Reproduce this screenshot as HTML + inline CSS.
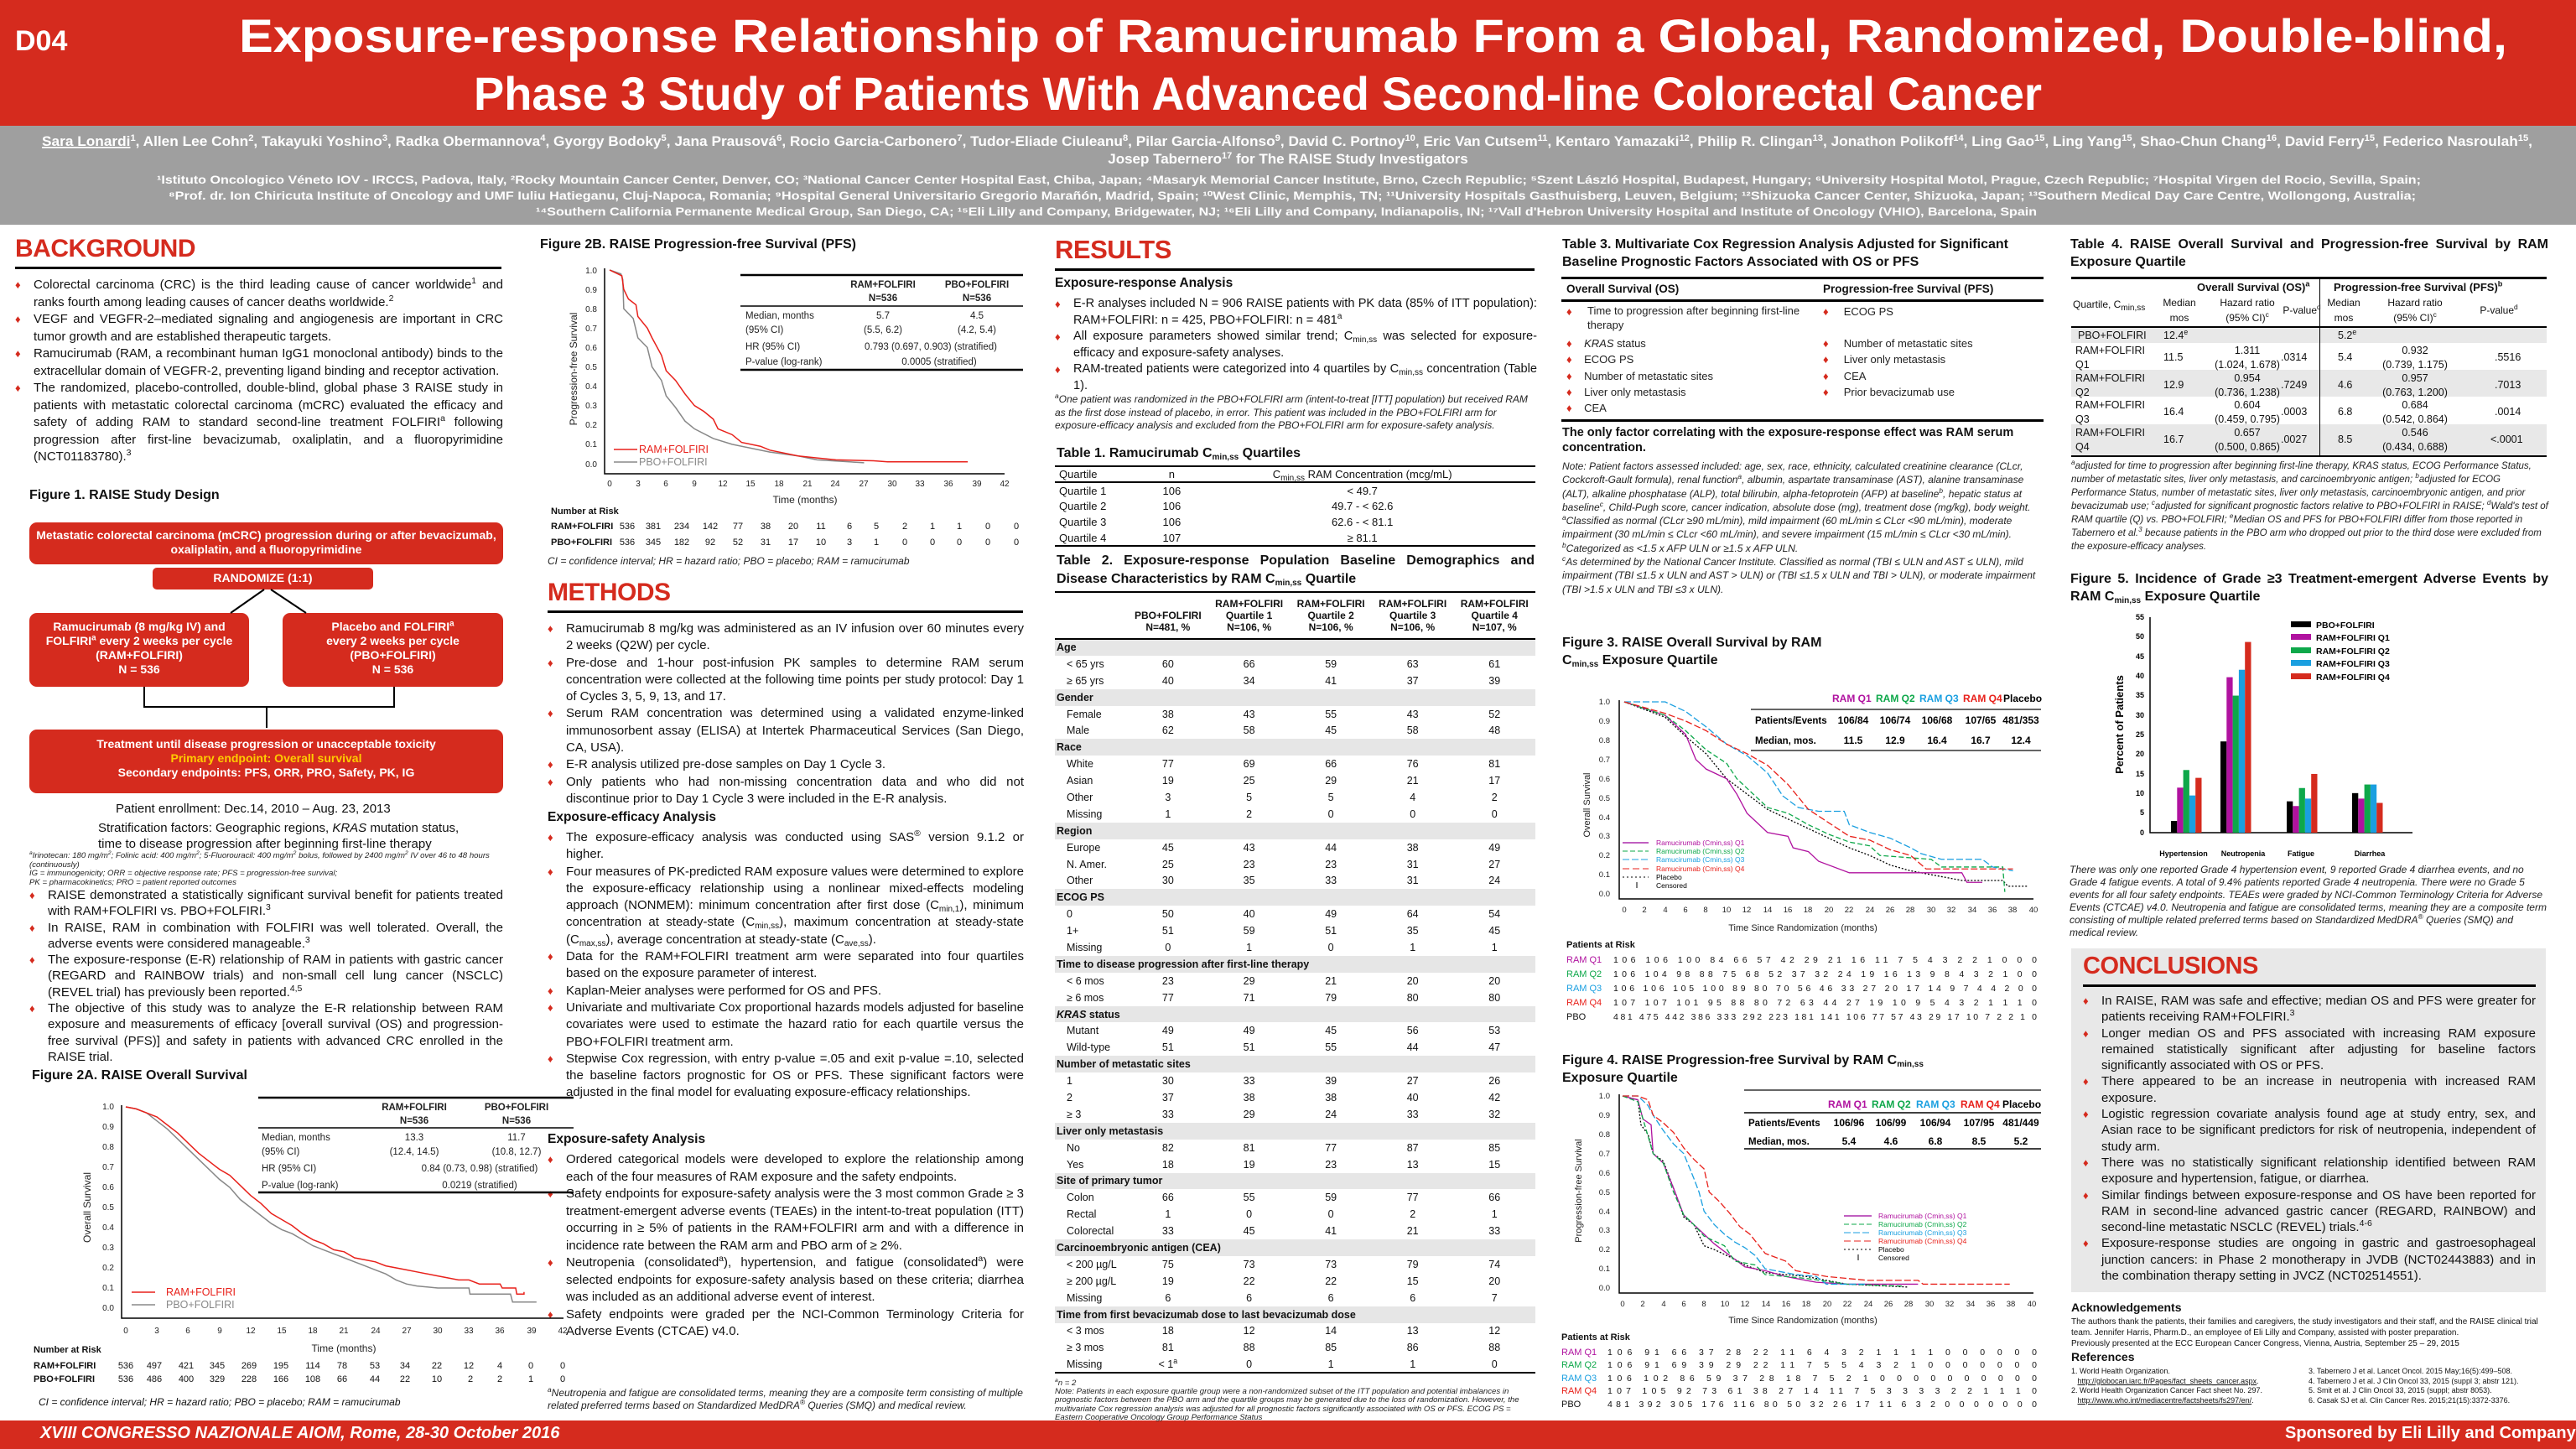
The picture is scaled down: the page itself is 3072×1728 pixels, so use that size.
<!DOCTYPE html>
<html><head><meta charset="utf-8"><style>
*{margin:0;padding:0;box-sizing:border-box}
body{width:3072px;height:1728px;position:relative;background:#fff;font-family:"Liberation Sans",Arial,sans-serif;color:#111;overflow:hidden}
sup{line-height:0;font-size:70%}
.a{position:absolute}
.hd{color:#d52b1e;font-weight:bold;font-size:30px;letter-spacing:-0.5px}
.rule{position:absolute;height:3px;background:#000}
.ft{font-weight:bold;font-size:16px}
.bl{font-size:15px;line-height:19px;text-align:justify}
.bl li{list-style:none;position:relative;padding-left:22px}
.bl li:before{content:"\2666";color:#d52b1e;position:absolute;left:0;font-size:13px}
.it{font-style:italic;font-size:12px;line-height:14.5px;color:#222}
.sub{font-size:10px;vertical-align:-3px;line-height:0}
table{border-collapse:collapse}
.t2 td{font-size:12.5px;height:19.9px;padding:0 2px;text-align:center}
.t2 td:first-child{text-align:left;padding-left:14px}
.t2 tr.s td{background:#e6e6e6;font-weight:bold;text-align:left;padding-left:2px;font-size:12.5px}
.box{position:absolute;background:#d52b1e;color:#fff;font-weight:bold;text-align:center;border-radius:9px;font-size:14px;line-height:17px}
</style></head><body>

<!-- header -->
<div class="a" style="left:0;top:0;width:3072px;height:150px;background:#d52b1e"></div>
<div class="a" style="left:0;top:150px;width:3072px;height:118px;background:#9f9f9f"></div>
<svg class="a" style="left:0;top:0" width="3072" height="270" font-family="Liberation Sans, Arial, sans-serif" fill="#fff" font-weight="bold">
<text x="18" y="60" font-size="34">D04</text>
<text x="285" y="62" font-size="56" textLength="2705" lengthAdjust="spacingAndGlyphs">Exposure-response Relationship of Ramucirumab From a Global, Randomized, Double-blind,</text>
<text x="565" y="131" font-size="56" textLength="1870" lengthAdjust="spacingAndGlyphs">Phase 3 Study of Patients With Advanced Second-line Colorectal Cancer</text>
<text x="50" y="174" font-size="17" textLength="2970" lengthAdjust="spacingAndGlyphs"><tspan text-decoration="underline">Sara Lonardi</tspan><tspan font-size="11" dy="-6">1</tspan><tspan dy="6">, Allen Lee Cohn</tspan><tspan font-size="11" dy="-6">2</tspan><tspan dy="6">, Takayuki Yoshino</tspan><tspan font-size="11" dy="-6">3</tspan><tspan dy="6">, Radka Obermannova</tspan><tspan font-size="11" dy="-6">4</tspan><tspan dy="6">, Gyorgy Bodoky</tspan><tspan font-size="11" dy="-6">5</tspan><tspan dy="6">, Jana Prausová</tspan><tspan font-size="11" dy="-6">6</tspan><tspan dy="6">, Rocio Garcia-Carbonero</tspan><tspan font-size="11" dy="-6">7</tspan><tspan dy="6">, Tudor-Eliade Ciuleanu</tspan><tspan font-size="11" dy="-6">8</tspan><tspan dy="6">, Pilar Garcia-Alfonso</tspan><tspan font-size="11" dy="-6">9</tspan><tspan dy="6">, David C. Portnoy</tspan><tspan font-size="11" dy="-6">10</tspan><tspan dy="6">, Eric Van Cutsem</tspan><tspan font-size="11" dy="-6">11</tspan><tspan dy="6">, Kentaro Yamazaki</tspan><tspan font-size="11" dy="-6">12</tspan><tspan dy="6">, Philip R. Clingan</tspan><tspan font-size="11" dy="-6">13</tspan><tspan dy="6">, Jonathon Polikoff</tspan><tspan font-size="11" dy="-6">14</tspan><tspan dy="6">, Ling Gao</tspan><tspan font-size="11" dy="-6">15</tspan><tspan dy="6">, Ling Yang</tspan><tspan font-size="11" dy="-6">15</tspan><tspan dy="6">, Shao-Chun Chang</tspan><tspan font-size="11" dy="-6">16</tspan><tspan dy="6">, David Ferry</tspan><tspan font-size="11" dy="-6">15</tspan><tspan dy="6">, Federico Nasroulah</tspan><tspan font-size="11" dy="-6">15</tspan><tspan dy="6">,</tspan></text>
<text x="1536" y="195" font-size="17" text-anchor="middle">Josep Tabernero<tspan font-size="11" dy="-6">17</tspan><tspan dy="6"> for The RAISE Study Investigators</tspan></text>
<text x="187" y="219" font-size="13.5" textLength="2700" lengthAdjust="spacingAndGlyphs">¹Istituto Oncologico Véneto IOV - IRCCS, Padova, Italy, ²Rocky Mountain Cancer Center, Denver, CO; ³National Cancer Center Hospital East, Chiba, Japan; ⁴Masaryk Memorial Cancer Institute, Brno, Czech Republic; ⁵Szent László Hospital, Budapest, Hungary; ⁶University Hospital Motol, Prague, Czech Republic; ⁷Hospital Virgen del Rocio, Sevilla, Spain;</text>
<text x="201" y="238" font-size="13.5" textLength="2680" lengthAdjust="spacingAndGlyphs">⁸Prof. dr. Ion Chiricuta Institute of Oncology and UMF Iuliu Hatieganu, Cluj-Napoca, Romania; ⁹Hospital General Universitario Gregorio Marañón, Madrid, Spain; ¹⁰West Clinic, Memphis, TN; ¹¹University Hospitals Gasthuisberg, Leuven, Belgium; ¹²Shizuoka Cancer Center, Shizuoka, Japan; ¹³Southern Medical Day Care Centre, Wollongong, Australia;</text>
<text x="639" y="257" font-size="13.5" textLength="1790" lengthAdjust="spacingAndGlyphs">¹⁴Southern California Permanente Medical Group, San Diego, CA; ¹⁵Eli Lilly and Company, Bridgewater, NJ; ¹⁶Eli Lilly and Company, Indianapolis, IN; ¹⁷Vall d'Hebron University Hospital and Institute of Oncology (VHIO), Barcelona, Spain</text>
</svg>

<!-- footer -->
<div class="a" style="left:0;top:1694px;width:3072px;height:34px;background:#d52b1e"></div>
<div class="a" style="left:48px;top:1698px;color:#fff;font-weight:bold;font-style:italic;font-size:20px">XVIII CONGRESSO NAZIONALE AIOM, Rome, 28-30 October 2016</div>
<div class="a" style="left:2725px;top:1698px;color:#fff;font-weight:bold;font-size:20px">Sponsored by Eli Lilly and Company</div>

<!-- COLUMN 1 -->
<div class="a hd" style="left:18px;top:280px">BACKGROUND</div>
<div class="rule" style="left:18px;top:318px;width:580px"></div>
<ul class="a bl" style="left:18px;top:330px;width:582px;line-height:20.5px">
<li>Colorectal carcinoma (CRC) is the third leading cause of cancer worldwide<sup>1</sup> and ranks fourth among leading causes of cancer deaths worldwide.<sup>2</sup></li>
<li>VEGF and VEGFR-2–mediated signaling and angiogenesis are important in CRC tumor growth and are established therapeutic targets.</li>
<li>Ramucirumab (RAM, a recombinant human IgG1 monoclonal antibody) binds to the extracellular domain of VEGFR-2, preventing ligand binding and receptor activation.</li>
<li>The randomized, placebo-controlled, double-blind, global phase 3 RAISE study in patients with metastatic colorectal carcinoma (mCRC) evaluated the efficacy and safety of adding RAM to standard second-line treatment FOLFIRI<sup>a</sup> following progression after first-line bevacizumab, oxaliplatin, and a fluoropyrimidine (NCT01183780).<sup>3</sup></li>
</ul>
<div class="a ft" style="left:35px;top:582px">Figure 1. RAISE Study Design</div>
<div class="box" style="left:35px;top:623px;width:565px;height:50px;padding-top:7px">Metastatic colorectal carcinoma (mCRC) progression during or after bevacizumab,<br>oxaliplatin, and a fluoropyrimidine</div>
<div class="box" style="left:182px;top:677px;width:263px;height:26px;padding-top:4px;border-radius:5px">RANDOMIZE (1:1)</div>
<div class="box" style="left:35px;top:731px;width:262px;height:88px;padding-top:8px">Ramucirumab (8 mg/kg IV) and<br>FOLFIRI<sup>a</sup> every 2 weeks per cycle<br>(RAM+FOLFIRI)<br>N = 536</div>
<div class="box" style="left:337px;top:731px;width:263px;height:88px;padding-top:8px">Placebo and FOLFIRI<sup>a</sup><br>every 2 weeks per cycle<br>(PBO+FOLFIRI)<br>N = 536</div>
<div class="box" style="left:35px;top:870px;width:565px;height:76px;padding-top:9px">Treatment until disease progression or unacceptable toxicity<br><span style="color:#ffcc00">Primary endpoint: Overall survival</span><br>Secondary endpoints: PFS, ORR, PRO, Safety, PK, IG</div>
<svg class="a" style="left:0;top:0" width="620" height="1000"><g stroke="#000" stroke-width="2" fill="none"><path d="M315 703 L275 731 M323 703 L365 731"/><path d="M172 819 V843 H470 V819 M318 843 V868"/></g></svg>
<div class="a" style="left:138px;top:956px;font-size:15px">Patient enrollment: Dec.14, 2010 – Aug. 23, 2013</div>
<div class="a" style="left:117px;top:978px;font-size:15px;line-height:19px">Stratification factors: Geographic regions, <i>KRAS</i> mutation status,<br>time to disease progression after beginning first-line therapy</div>
<div class="a it" style="left:35px;top:1016px;width:580px;font-size:9.6px;line-height:10.5px"><sup>a</sup>Irinotecan: 180 mg/m<sup>2</sup>; Folinic acid: 400 mg/m<sup>2</sup>; 5-Fluorouracil: 400 mg/m<sup>2</sup> bolus, followed by 2400 mg/m<sup>2</sup> IV over 46 to 48 hours (continuously)<br>IG = immunogenicity; ORR = objective response rate; PFS = progression-free survival;<br>PK = pharmacokinetics; PRO = patient reported outcomes</div>
<ul class="a bl" style="left:35px;top:1058px;width:565px;line-height:19.3px">
<li>RAISE demonstrated a statistically significant survival benefit for patients treated with RAM+FOLFIRI vs. PBO+FOLFIRI.<sup>3</sup></li>
<li>In RAISE, RAM in combination with FOLFIRI was well tolerated. Overall, the adverse events were considered manageable.<sup>3</sup></li>
<li>The exposure-response (E-R) relationship of RAM in patients with gastric cancer (REGARD and RAINBOW trials) and non-small cell lung cancer (NSCLC) (REVEL trial) has previously been reported.<sup>4,5</sup></li>
<li>The objective of this study was to analyze the E-R relationship between RAM exposure and measurements of efficacy [overall survival (OS) and progression-free survival (PFS)] and safety in patients with advanced CRC enrolled in the RAISE trial.</li>
</ul>
<div class="a ft" style="left:38px;top:1274px">Figure 2A. RAISE Overall Survival</div>

<!-- COLUMN 2 -->
<div class="a ft" style="left:644px;top:283px">Figure 2B. RAISE Progression-free Survival (PFS)</div>
<div class="a" style="left:653px;top:662px;font-style:italic;font-size:12px;color:#222">CI = confidence interval; HR = hazard ratio; PBO = placebo; RAM = ramucirumab</div>
<div class="a hd" style="left:653px;top:690px">METHODS</div>
<div class="rule" style="left:653px;top:728px;width:567px"></div>
<ul class="a bl" style="left:653px;top:740px;width:568px;line-height:20.3px">
<li>Ramucirumab 8 mg/kg was administered as an IV infusion over 60 minutes every 2 weeks (Q2W) per cycle.</li>
<li>Pre-dose and 1-hour post-infusion PK samples to determine RAM serum concentration were collected at the following time points per study protocol: Day 1 of Cycles 3, 5, 9, 13, and 17.</li>
<li>Serum RAM concentration was determined using a validated enzyme-linked immunosorbent assay (ELISA) at Intertek Pharmaceutical Services (San Diego, CA, USA).</li>
<li>E-R analysis utilized pre-dose samples on Day 1 Cycle 3.</li>
<li>Only patients who had non-missing concentration data and who did not discontinue prior to Day 1 Cycle 3 were included in the E-R analysis.</li>
</ul>
<div class="a ft" style="left:653px;top:966px;font-size:15.5px">Exposure-efficacy Analysis</div>
<ul class="a bl" style="left:653px;top:989px;width:568px;line-height:20.3px">
<li>The exposure-efficacy analysis was conducted using SAS<sup>®</sup> version 9.1.2 or higher.</li>
<li>Four measures of PK-predicted RAM exposure values were determined to explore the exposure-efficacy relationship using a nonlinear mixed-effects modeling approach (NONMEM): minimum concentration after first dose (C<span class="sub">min,1</span>), minimum concentration at steady-state (C<span class="sub">min,ss</span>), maximum concentration at steady-state (C<span class="sub">max,ss</span>), average concentration at steady-state (C<span class="sub">ave,ss</span>).</li>
<li>Data for the RAM+FOLFIRI treatment arm were separated into four quartiles based on the exposure parameter of interest.</li>
<li>Kaplan-Meier analyses were performed for OS and PFS.</li>
<li>Univariate and multivariate Cox proportional hazards models adjusted for baseline covariates were used to estimate the hazard ratio for each quartile versus the PBO+FOLFIRI treatment arm.</li>
<li>Stepwise Cox regression, with entry p-value =.05 and exit p-value =.10, selected the baseline factors prognostic for OS or PFS. These significant factors were adjusted in the final model for evaluating exposure-efficacy relationships.</li>
</ul>
<div class="a ft" style="left:653px;top:1350px;font-size:15.5px">Exposure-safety Analysis</div>
<ul class="a bl" style="left:653px;top:1373px;width:568px;line-height:20.5px">
<li>Ordered categorical models were developed to explore the relationship among each of the four measures of RAM exposure and the safety endpoints.</li>
<li>Safety endpoints for exposure-safety analysis were the 3 most common Grade ≥ 3 treatment-emergent adverse events (TEAEs) in the intent-to-treat population (ITT) occurring in ≥ 5% of patients in the RAM+FOLFIRI arm and with a difference in incidence rate between the RAM arm and PBO arm of ≥ 2%.</li>
<li>Neutropenia (consolidated<sup>a</sup>), hypertension, and fatigue (consolidated<sup>a</sup>) were selected endpoints for exposure-safety analysis based on these criteria; diarrhea was included as an additional adverse event of interest.</li>
<li>Safety endpoints were graded per the NCI-Common Terminology Criteria for Adverse Events (CTCAE) v4.0.</li>
</ul>
<div class="a it" style="left:653px;top:1654px;width:568px"><sup>a</sup>Neutropenia and fatigue are consolidated terms, meaning they are a composite term consisting of multiple related preferred terms based on Standardized MedDRA<sup>®</sup> Queries (SMQ) and medical review.</div>

<!-- COLUMN 3 -->
<div class="a hd" style="left:1258px;top:280px;font-size:31px">RESULTS</div>
<div class="rule" style="left:1258px;top:320px;width:572px"></div>
<div class="a ft" style="left:1258px;top:329px;font-size:15.5px">Exposure-response Analysis</div>
<ul class="a bl" style="left:1258px;top:353px;width:575px;font-size:14.6px;line-height:19.5px">
<li>E-R analyses included N = 906 RAISE patients with PK data (85% of ITT population): RAM+FOLFIRI: n = 425, PBO+FOLFIRI: n = 481<sup>a</sup></li>
<li>All exposure parameters showed similar trend; C<span class="sub">min,ss</span> was selected for exposure-efficacy and exposure-safety analyses.</li>
<li>RAM-treated patients were categorized into 4 quartiles by C<span class="sub">min,ss</span> concentration (Table 1).</li>
</ul>
<div class="a it" style="left:1258px;top:469px;width:573px;line-height:15.5px"><sup>a</sup>One patient was randomized in the PBO+FOLFIRI arm (intent-to-treat [ITT] population) but received RAM as the first dose instead of placebo, in error. This patient was included in the PBO+FOLFIRI arm for exposure-efficacy analysis and excluded from the PBO+FOLFIRI arm for exposure-safety analysis.</div>
<div class="a ft" style="left:1260px;top:532px">Table 1. Ramucirumab C<span class="sub">min,ss</span> Quartiles</div>
<table class="a" style="left:1258px;top:555px;width:573px;border-top:2px solid #000;border-bottom:2px solid #000;font-size:13px">
<tr style="border-bottom:2px solid #000"><td style="padding-left:5px;height:19px">Quartile</td><td style="text-align:center">n</td><td style="text-align:center">C<span class="sub">min,ss</span> RAM Concentration (mcg/mL)</td></tr>
<tr><td style="padding-left:5px;height:19px">Quartile 1</td><td style="text-align:center">106</td><td style="text-align:center">&lt; 49.7</td></tr>
<tr><td style="padding-left:5px;height:19px">Quartile 2</td><td style="text-align:center">106</td><td style="text-align:center">49.7 - &lt; 62.6</td></tr>
<tr><td style="padding-left:5px;height:19px">Quartile 3</td><td style="text-align:center">106</td><td style="text-align:center">62.6 - &lt; 81.1</td></tr>
<tr><td style="padding-left:5px;height:19px">Quartile 4</td><td style="text-align:center">107</td><td style="text-align:center">≥ 81.1</td></tr>
</table>
<div class="a ft" style="left:1260px;top:658px;width:570px;line-height:22px;text-align:justify">Table 2. Exposure-response Population Baseline Demographics and Disease Characteristics by RAM C<span class="sub">min,ss</span> Quartile</div>
<table class="a t2" style="left:1258px;top:705px;width:573px;border-top:2px solid #000;border-bottom:2px solid #000">
<tr style="border-bottom:2px solid #000;font-weight:bold"><td style="height:56px"></td><td style="font-size:12px;padding-top:14px">PBO+FOLFIRI<br>N=481, %</td><td style="font-size:12px">RAM+FOLFIRI<br>Quartile 1<br>N=106, %</td><td style="font-size:12px">RAM+FOLFIRI<br>Quartile 2<br>N=106, %</td><td style="font-size:12px">RAM+FOLFIRI<br>Quartile 3<br>N=106, %</td><td style="font-size:12px">RAM+FOLFIRI<br>Quartile 4<br>N=107, %</td></tr>
<tr class="s"><td colspan="6">Age</td></tr>
<tr><td>&lt; 65 yrs</td><td>60</td><td>66</td><td>59</td><td>63</td><td>61</td></tr>
<tr><td>≥ 65 yrs</td><td>40</td><td>34</td><td>41</td><td>37</td><td>39</td></tr>
<tr class="s"><td colspan="6">Gender</td></tr>
<tr><td>Female</td><td>38</td><td>43</td><td>55</td><td>43</td><td>52</td></tr>
<tr><td>Male</td><td>62</td><td>58</td><td>45</td><td>58</td><td>48</td></tr>
<tr class="s"><td colspan="6">Race</td></tr>
<tr><td>White</td><td>77</td><td>69</td><td>66</td><td>76</td><td>81</td></tr>
<tr><td>Asian</td><td>19</td><td>25</td><td>29</td><td>21</td><td>17</td></tr>
<tr><td>Other</td><td>3</td><td>5</td><td>5</td><td>4</td><td>2</td></tr>
<tr><td>Missing</td><td>1</td><td>2</td><td>0</td><td>0</td><td>0</td></tr>
<tr class="s"><td colspan="6">Region</td></tr>
<tr><td>Europe</td><td>45</td><td>43</td><td>44</td><td>38</td><td>49</td></tr>
<tr><td>N. Amer.</td><td>25</td><td>23</td><td>23</td><td>31</td><td>27</td></tr>
<tr><td>Other</td><td>30</td><td>35</td><td>33</td><td>31</td><td>24</td></tr>
<tr class="s"><td colspan="6">ECOG PS</td></tr>
<tr><td>0</td><td>50</td><td>40</td><td>49</td><td>64</td><td>54</td></tr>
<tr><td>1+</td><td>51</td><td>59</td><td>51</td><td>35</td><td>45</td></tr>
<tr><td>Missing</td><td>0</td><td>1</td><td>0</td><td>1</td><td>1</td></tr>
<tr class="s"><td colspan="6">Time to disease progression after first-line therapy</td></tr>
<tr><td>&lt; 6 mos</td><td>23</td><td>29</td><td>21</td><td>20</td><td>20</td></tr>
<tr><td>≥ 6 mos</td><td>77</td><td>71</td><td>79</td><td>80</td><td>80</td></tr>
<tr class="s"><td colspan="6"><i>KRAS</i> status</td></tr>
<tr><td>Mutant</td><td>49</td><td>49</td><td>45</td><td>56</td><td>53</td></tr>
<tr><td>Wild-type</td><td>51</td><td>51</td><td>55</td><td>44</td><td>47</td></tr>
<tr class="s"><td colspan="6">Number of metastatic sites</td></tr>
<tr><td>1</td><td>30</td><td>33</td><td>39</td><td>27</td><td>26</td></tr>
<tr><td>2</td><td>37</td><td>38</td><td>38</td><td>40</td><td>42</td></tr>
<tr><td>≥ 3</td><td>33</td><td>29</td><td>24</td><td>33</td><td>32</td></tr>
<tr class="s"><td colspan="6">Liver only metastasis</td></tr>
<tr><td>No</td><td>82</td><td>81</td><td>77</td><td>87</td><td>85</td></tr>
<tr><td>Yes</td><td>18</td><td>19</td><td>23</td><td>13</td><td>15</td></tr>
<tr class="s"><td colspan="6">Site of primary tumor</td></tr>
<tr><td>Colon</td><td>66</td><td>55</td><td>59</td><td>77</td><td>66</td></tr>
<tr><td>Rectal</td><td>1</td><td>0</td><td>0</td><td>2</td><td>1</td></tr>
<tr><td>Colorectal</td><td>33</td><td>45</td><td>41</td><td>21</td><td>33</td></tr>
<tr class="s"><td colspan="6">Carcinoembryonic antigen (CEA)</td></tr>
<tr><td>&lt; 200 µg/L</td><td>75</td><td>73</td><td>73</td><td>79</td><td>74</td></tr>
<tr><td>≥ 200 µg/L</td><td>19</td><td>22</td><td>22</td><td>15</td><td>20</td></tr>
<tr><td>Missing</td><td>6</td><td>6</td><td>6</td><td>6</td><td>7</td></tr>
<tr class="s"><td colspan="6">Time from first bevacizumab dose to last bevacizumab dose</td></tr>
<tr><td>&lt; 3 mos</td><td>18</td><td>12</td><td>14</td><td>13</td><td>12</td></tr>
<tr><td>≥ 3 mos</td><td>81</td><td>88</td><td>85</td><td>86</td><td>88</td></tr>
<tr><td>Missing</td><td>&lt; 1<sup>a</sup></td><td>0</td><td>1</td><td>1</td><td>0</td></tr>
</table>
<div class="a it" style="left:1258px;top:1645px;width:575px;font-size:9.6px;line-height:10.2px"><sup>a</sup>n = 2<br>Note: Patients in each exposure quartile group were a non-randomized subset of the ITT population and potential imbalances in prognostic factors between the PBO arm and the quartile groups may be generated due to the loss of randomization. However, the multivariate Cox regression analysis was adjusted for all prognostic factors significantly associated with OS or PFS. ECOG PS = Eastern Cooperative Oncology Group Performance Status</div>

<!-- COLUMN 4 -->
<div class="a ft" style="left:1863px;top:281px;width:560px;line-height:21px">Table 3. Multivariate Cox Regression Analysis Adjusted for Significant Baseline Prognostic Factors Associated with OS or PFS</div>
<div class="rule" style="left:1862px;top:330px;width:575px"></div>
<div class="a" style="left:1868px;top:337px;font-weight:bold;font-size:13.5px">Overall Survival (OS)</div>
<div class="a" style="left:2174px;top:337px;font-weight:bold;font-size:13.5px">Progression-free Survival (PFS)</div>
<div class="rule" style="left:1862px;top:357px;width:575px"></div>
<div class="a" style="left:1868px;top:362px;font-size:13px;line-height:20px;color:#222">
<div style="position:absolute;left:0;top:0;width:300px"><span style="color:#d52b1e">♦</span><span style="position:absolute;left:25px;width:275px;line-height:17px">Time to progression after beginning first-line therapy</span></div>
<div style="position:absolute;left:0;top:38px;white-space:nowrap"><span style="color:#d52b1e">♦</span>&nbsp;&nbsp;&nbsp;&nbsp;<i>KRAS</i> status</div>
<div style="position:absolute;left:0;top:57px;white-space:nowrap"><span style="color:#d52b1e">♦</span>&nbsp;&nbsp;&nbsp;&nbsp;ECOG PS</div>
<div style="position:absolute;left:0;top:77px;white-space:nowrap"><span style="color:#d52b1e">♦</span>&nbsp;&nbsp;&nbsp;&nbsp;Number of metastatic sites</div>
<div style="position:absolute;left:0;top:96px;white-space:nowrap"><span style="color:#d52b1e">♦</span>&nbsp;&nbsp;&nbsp;&nbsp;Liver only metastasis</div>
<div style="position:absolute;left:0;top:115px;white-space:nowrap"><span style="color:#d52b1e">♦</span>&nbsp;&nbsp;&nbsp;&nbsp;CEA</div>
<div style="position:absolute;left:306px;top:0;white-space:nowrap"><span style="color:#d52b1e">♦</span>&nbsp;&nbsp;&nbsp;&nbsp;&nbsp;ECOG PS</div>
<div style="position:absolute;left:306px;top:38px;white-space:nowrap"><span style="color:#d52b1e">♦</span>&nbsp;&nbsp;&nbsp;&nbsp;&nbsp;Number of metastatic sites</div>
<div style="position:absolute;left:306px;top:57px;white-space:nowrap"><span style="color:#d52b1e">♦</span>&nbsp;&nbsp;&nbsp;&nbsp;&nbsp;Liver only metastasis</div>
<div style="position:absolute;left:306px;top:77px;white-space:nowrap"><span style="color:#d52b1e">♦</span>&nbsp;&nbsp;&nbsp;&nbsp;&nbsp;CEA</div>
<div style="position:absolute;left:306px;top:96px;white-space:nowrap"><span style="color:#d52b1e">♦</span>&nbsp;&nbsp;&nbsp;&nbsp;&nbsp;Prior bevacizumab use</div>
</div>
<div class="rule" style="left:1862px;top:500px;width:575px"></div>
<div class="a" style="left:1863px;top:507px;width:575px;font-weight:bold;font-size:14.5px;line-height:18px">The only factor correlating with the exposure-response effect was RAM serum concentration.</div>
<div class="a it" style="left:1863px;top:548px;width:578px;font-size:12px;line-height:16.3px">Note: Patient factors assessed included: age, sex, race, ethnicity, calculated creatinine clearance (CLcr, Cockcroft-Gault formula), renal function<sup>a</sup>, albumin, aspartate transaminase (AST), alanine transaminase (ALT), alkaline phosphatase (ALP), total bilirubin, alpha-fetoprotein (AFP) at baseline<sup>b</sup>, hepatic status at baseline<sup>c</sup>, Child-Pugh score, cancer indication, absolute dose (mg), treatment dose (mg/kg), body weight.<br><sup>a</sup>Classified as normal (CLcr ≥90 mL/min), mild impairment (60 mL/min ≤ CLcr &lt;90 mL/min), moderate impairment (30 mL/min ≤ CLcr &lt;60 mL/min), and severe impairment (15 mL/min ≤ CLcr &lt;30 mL/min).<br><sup>b</sup>Categorized as &lt;1.5 x AFP ULN or ≥1.5 x AFP ULN.<br><sup>c</sup>As determined by the National Cancer Institute. Classified as normal (TBI ≤ ULN and AST ≤ ULN), mild impairment (TBI ≤1.5 x ULN and AST &gt; ULN) or (TBI ≤1.5 x ULN and TBI &gt; ULN), or moderate impairment (TBI &gt;1.5 x ULN and TBI ≤3 x ULN).</div>
<div class="a ft" style="left:1863px;top:756px;line-height:21px">Figure 3. RAISE Overall Survival by RAM<br>C<span class="sub">min,ss</span> Exposure Quartile</div>
<div class="a ft" style="left:1863px;top:1254px;line-height:21px">Figure 4. RAISE Progression-free Survival by RAM C<span class="sub">min,ss</span><br>Exposure Quartile</div>

<!-- COLUMN 5 -->
<div class="a ft" style="left:2469px;top:281px;width:570px;line-height:21px;text-align:justify">Table 4. RAISE Overall Survival and Progression-free Survival by RAM Exposure Quartile</div>
<div class="a" style="left:2470px;top:330px;width:567px;height:215px;border-top:3px solid #000;border-bottom:3px solid #000"></div>
<div class="a" style="left:2470px;top:389px;width:567px;height:2px;background:#000"></div>
<div class="a" style="left:2470px;top:391px;width:567px;height:18px;background:#e8e8e8"></div>
<div class="a" style="left:2470px;top:441px;width:567px;height:32px;background:#e8e8e8"></div>
<div class="a" style="left:2470px;top:506px;width:567px;height:37px;background:#e8e8e8"></div>
<div class="a" style="left:2766px;top:333px;width:1px;height:210px;background:#000"></div>
<div class="a" style="left:2620px;top:335px;font-weight:bold;font-size:13px">Overall Survival (OS)<sup>a</sup></div>
<div class="a" style="left:2783px;top:335px;font-weight:bold;font-size:13px">Progression-free Survival (PFS)<sup>b</sup></div>
<div class="a" style="font-size:12px;line-height:18px;text-align:center;left:2470px;top:352px;width:567px">
<span class="a" style="left:2px;top:2px">Quartile, C<span class="sub">min,ss</span></span>
<span class="a" style="left:104px;top:0;width:50px">Median<br>mos</span>
<span class="a" style="left:160px;top:0;width:100px">Hazard ratio<br>(95% CI)<sup>c</sup></span>
<span class="a" style="left:250px;top:9px;width:50px">P-value<sup>d</sup></span>
<span class="a" style="left:300px;top:0;width:50px">Median<br>mos</span>
<span class="a" style="left:360px;top:0;width:100px">Hazard ratio<br>(95% CI)<sup>c</sup></span>
<span class="a" style="left:470px;top:9px;width:80px">P-value<sup>d</sup></span>
</div>
<div class="a" style="font-size:12.5px;line-height:16.5px;left:2470px;top:392px;width:567px;height:150px">
<span class="a" style="left:8px;top:0">PBO+FOLFIRI</span><span class="a" style="left:110px;top:0">12.4<sup>e</sup></span><span class="a" style="left:318px;top:0">5.2<sup>e</sup></span>
<span class="a" style="left:5px;top:18px">RAM+FOLFIRI<br>Q1</span><span class="a" style="left:110px;top:26px">11.5</span><span class="a" style="left:165px;top:18px;width:90px;text-align:center">1.311<br>(1.024, 1.678)</span><span class="a" style="left:250px;top:26px">.0314</span><span class="a" style="left:318px;top:26px">5.4</span><span class="a" style="left:365px;top:18px;width:90px;text-align:center">0.932<br>(0.739, 1.175)</span><span class="a" style="left:505px;top:26px">.5516</span>
<span class="a" style="left:5px;top:51px">RAM+FOLFIRI<br>Q2</span><span class="a" style="left:110px;top:59px">12.9</span><span class="a" style="left:165px;top:51px;width:90px;text-align:center">0.954<br>(0.736, 1.238)</span><span class="a" style="left:250px;top:59px">.7249</span><span class="a" style="left:318px;top:59px">4.6</span><span class="a" style="left:365px;top:51px;width:90px;text-align:center">0.957<br>(0.763, 1.200)</span><span class="a" style="left:505px;top:59px">.7013</span>
<span class="a" style="left:5px;top:83px">RAM+FOLFIRI<br>Q3</span><span class="a" style="left:110px;top:91px">16.4</span><span class="a" style="left:165px;top:83px;width:90px;text-align:center">0.604<br>(0.459, 0.795)</span><span class="a" style="left:250px;top:91px">.0003</span><span class="a" style="left:318px;top:91px">6.8</span><span class="a" style="left:365px;top:83px;width:90px;text-align:center">0.684<br>(0.542, 0.864)</span><span class="a" style="left:505px;top:91px">.0014</span>
<span class="a" style="left:5px;top:116px">RAM+FOLFIRI<br>Q4</span><span class="a" style="left:110px;top:124px">16.7</span><span class="a" style="left:165px;top:116px;width:90px;text-align:center">0.657<br>(0.500, 0.865)</span><span class="a" style="left:250px;top:124px">.0027</span><span class="a" style="left:318px;top:124px">8.5</span><span class="a" style="left:365px;top:116px;width:90px;text-align:center">0.546<br>(0.434, 0.688)</span><span class="a" style="left:500px;top:124px">&lt;.0001</span>
</div>
<div class="a it" style="left:2470px;top:548px;width:570px;font-size:11.5px;line-height:16px"><sup>a</sup>adjusted for time to progression after beginning first-line therapy, KRAS status, ECOG Performance Status, number of metastatic sites, liver only metastasis, and carcinoembryonic antigen; <sup>b</sup>adjusted for ECOG Performance Status, number of metastatic sites, liver only metastasis, carcinoembryonic antigen, and prior bevacizumab use; <sup>c</sup>adjusted for significant prognostic factors relative to PBO+FOLFIRI in RAISE; <sup>d</sup>Wald's test of RAM quartile (Q) vs. PBO+FOLFIRI; <sup>e</sup>Median OS and PFS for PBO+FOLFIRI differ from those reported in Tabernero et al.<sup>3</sup> because patients in the PBO arm who dropped out prior to the third dose were excluded from the exposure-efficacy analyses.</div>
<div class="a ft" style="left:2469px;top:680px;width:570px;line-height:21px;text-align:justify">Figure 5. Incidence of Grade ≥3 Treatment-emergent Adverse Events by RAM C<span class="sub">min,ss</span> Exposure Quartile</div>
<div class="a it" style="left:2468px;top:1030px;width:570px;font-size:12px;line-height:15px">There was only one reported Grade 4 hypertension event, 9 reported Grade 4 diarrhea events, and no Grade 4 fatigue events. A total of 9.4% patients reported Grade 4 neutropenia. There were no Grade 5 events for all four safety endpoints. TEAEs were graded by NCI-Common Terminology Criteria for Adverse Events (CTCAE) v4.0. Neutropenia and fatigue are consolidated terms, meaning they are a composite term consisting of multiple related preferred terms based on Standardized MedDRA<sup>®</sup> Queries (SMQ) and medical review.</div>
<div class="a" style="left:2470px;top:1131px;width:566px;height:410px;background:#e8e8e8"></div>
<div class="a hd" style="left:2484px;top:1136px;font-size:29px">CONCLUSIONS</div>
<div class="rule" style="left:2484px;top:1174px;width:540px"></div>
<ul class="a bl" style="left:2484px;top:1184px;width:540px;font-size:15px;line-height:19.3px">
<li>In RAISE, RAM was safe and effective; median OS and PFS were greater for patients receiving RAM+FOLFIRI.<sup>3</sup></li>
<li>Longer median OS and PFS associated with increasing RAM exposure remained statistically significant after adjusting for baseline factors significantly associated with OS or PFS.</li>
<li>There appeared to be an increase in neutropenia with increased RAM exposure.</li>
<li>Logistic regression covariate analysis found age at study entry, sex, and Asian race to be significant predictors for risk of neutropenia, independent of study arm.</li>
<li>There was no statistically significant relationship identified between RAM exposure and hypertension, fatigue, or diarrhea.</li>
<li>Similar findings between exposure-response and OS have been reported for RAM in second-line advanced gastric cancer (REGARD, RAINBOW) and second-line metastatic NSCLC (REVEL) trials.<sup>4-6</sup></li>
<li>Exposure-response studies are ongoing in gastric and gastroesophageal junction cancers: in Phase 2 monotherapy in JVDB (NCT02443883) and in the combination therapy setting in JVCZ (NCT02514551).</li>
</ul>
<div class="a" style="left:2470px;top:1551px;font-weight:bold;font-size:14px">Acknowledgements</div>
<div class="a" style="left:2470px;top:1570px;width:570px;font-size:10px;line-height:13px">The authors thank the patients, their families and caregivers, the study investigators and their staff, and the RAISE clinical trial team. Jennifer Harris, Pharm.D., an employee of Eli Lilly and Company, assisted with poster preparation.<br>Previously presented at the ECC European Cancer Congress, Vienna, Austria, September 25 – 29, 2015</div>
<div class="a" style="left:2470px;top:1610px;font-weight:bold;font-size:14px">References</div>
<div class="a" style="left:2470px;top:1630px;font-size:9px;line-height:11.5px">1. World Health Organization.<br>&nbsp;&nbsp;&nbsp;<u>http://globocan.iarc.fr/Pages/fact_sheets_cancer.aspx</u>.<br>2. World Health Organization Cancer Fact sheet No. 297.<br>&nbsp;&nbsp;&nbsp;<u>http://www.who.int/mediacentre/factsheets/fs297/en/</u>.</div>
<div class="a" style="left:2753px;top:1630px;font-size:9px;line-height:11.5px">3. Tabernero J et al. Lancet Oncol. 2015 May;16(5):499–508.<br>4. Tabernero J et al. J Clin Oncol 33, 2015 (suppl 3; abstr 121).<br>5. Smit et al. J Clin Oncol 33, 2015 (suppl; abstr 8053).<br>6. Casak SJ et al. Clin Cancer Res. 2015;21(15):3372-3376.</div>

<!-- CHARTS SVG -->
<svg class="a" style="left:0;top:0" width="3072" height="1728" font-family="Liberation Sans, Arial, sans-serif">
<!-- Fig 2A -->
<g font-size="10" fill="#222">
<path d="M145 1318 V1572 H672" stroke="#000" stroke-width="1.5" fill="none"/>
<g text-anchor="end"><text x="136" y="1323">1.0</text><text x="136" y="1347">0.9</text><text x="136" y="1371">0.8</text><text x="136" y="1395">0.7</text><text x="136" y="1419">0.6</text><text x="136" y="1443">0.5</text><text x="136" y="1467">0.4</text><text x="136" y="1491">0.3</text><text x="136" y="1515">0.2</text><text x="136" y="1539">0.1</text><text x="136" y="1563">0.0</text></g>
<g text-anchor="middle"><text x="150" y="1590">0</text><text x="187" y="1590">3</text><text x="224" y="1590">6</text><text x="262" y="1590">9</text><text x="299" y="1590">12</text><text x="336" y="1590">15</text><text x="373" y="1590">18</text><text x="410" y="1590">21</text><text x="448" y="1590">24</text><text x="485" y="1590">27</text><text x="522" y="1590">30</text><text x="559" y="1590">33</text><text x="596" y="1590">36</text><text x="634" y="1590">39</text><text x="671" y="1590">42</text></g>
<text x="410" y="1612" text-anchor="middle" font-size="12">Time (months)</text>
<text transform="translate(108 1440) rotate(-90)" text-anchor="middle" font-size="12">Overall Survival</text>
</g>
<g transform="translate(150 1560) scale(12.4 -240)" fill="none">
<polyline vector-effect="non-scaling-stroke" stroke-width="1.5" stroke="#888" points="0,1 1,.99 2,.97 3,.93 4,.89 5,.84 6,.79 7,.74 8,.69 9,.64 10,.6 11,.54 12,.5 13,.46 14,.42 15,.39 16,.37 17,.34 18,.31 19,.29 20,.27 21,.25 22,.23 23,.21 24,.19 25,.17 26,.14 27,.12 28,.11 30,.1 33,.1 33.1,.07 37,.07 37.2,.03 39.5,.03"/>
<polyline vector-effect="non-scaling-stroke" stroke-width="1.5" stroke="#e8211b" points="0,1 1,.99 2,.97 3,.95 4,.91 5,.87 6,.82 7,.77 8,.73 9,.69 10,.66 11,.61 12,.56 13,.52 14,.47 15,.44 16,.41 17,.37 18,.34 19,.32 20,.29 21,.28 22,.25 23,.24 24,.23 25,.21 26,.2 27,.19 28,.18 30,.16 31,.15 32,.14 33,.14 34,.12 36,.12 36.2,.1 37.5,.1 37.6,.07 38.3,.07 38.3,.08"/>
</g>
<g font-size="12.5"><line x1="157" y1="1541" x2="185" y2="1541" stroke="#e8211b" stroke-width="1.5"/><text x="198" y="1545" fill="#e8211b">RAM+FOLFIRI</text><line x1="157" y1="1556" x2="185" y2="1556" stroke="#888" stroke-width="1.5"/><text x="198" y="1560" fill="#888">PBO+FOLFIRI</text></g>
<g font-size="11.5" fill="#222"><line x1="308" y1="1309" x2="684" y2="1309" stroke="#000" stroke-width="2.5"/><text x="494" y="1324" text-anchor="middle" font-weight="bold">RAM+FOLFIRI</text><text x="494" y="1340" text-anchor="middle" font-weight="bold">N=536</text><text x="616" y="1324" text-anchor="middle" font-weight="bold">PBO+FOLFIRI</text><text x="616" y="1340" text-anchor="middle" font-weight="bold">N=536</text><line x1="308" y1="1345" x2="684" y2="1345" stroke="#000" stroke-width="1.5"/><text x="312" y="1360">Median, months</text><text x="494" y="1360" text-anchor="middle">13.3</text><text x="616" y="1360" text-anchor="middle">11.7</text><text x="312" y="1377">(95% CI)</text><text x="494" y="1377" text-anchor="middle">(12.4, 14.5)</text><text x="616" y="1377" text-anchor="middle">(10.8, 12.7)</text><text x="312" y="1397">HR (95% CI)</text><text x="572" y="1397" text-anchor="middle">0.84 (0.73, 0.98) (stratified)</text><text x="312" y="1417">P-value (log-rank)</text><text x="572" y="1417" text-anchor="middle">0.0219 (stratified)</text><line x1="308" y1="1422" x2="684" y2="1422" stroke="#000" stroke-width="2.5"/></g>
<g font-size="11" fill="#111"><text x="40" y="1613" font-weight="bold">Number at Risk</text><text x="40" y="1632" font-weight="bold">RAM+FOLFIRI</text><text x="40" y="1648" font-weight="bold">PBO+FOLFIRI</text>
<g text-anchor="middle"><text x="150" y="1632">536</text><text x="184" y="1632">497</text><text x="222" y="1632">421</text><text x="259" y="1632">345</text><text x="297" y="1632">269</text><text x="335" y="1632">195</text><text x="373" y="1632">114</text><text x="408" y="1632">78</text><text x="447" y="1632">53</text><text x="483" y="1632">34</text><text x="521" y="1632">22</text><text x="559" y="1632">12</text><text x="596" y="1632">4</text><text x="633" y="1632">0</text><text x="671" y="1632">0</text>
<text x="150" y="1648">536</text><text x="184" y="1648">486</text><text x="222" y="1648">400</text><text x="259" y="1648">329</text><text x="297" y="1648">228</text><text x="335" y="1648">166</text><text x="373" y="1648">108</text><text x="408" y="1648">66</text><text x="447" y="1648">44</text><text x="483" y="1648">22</text><text x="521" y="1648">10</text><text x="561" y="1648">2</text><text x="596" y="1648">2</text><text x="633" y="1648">1</text><text x="671" y="1648">0</text></g>
<text x="46" y="1676" font-style="italic" font-size="12">CI = confidence interval; HR = hazard ratio; PBO = placebo; RAM = ramucirumab</text></g>

<!-- Fig 2B -->
<g font-size="10" fill="#222">
<path d="M721 320 V565 H1198" stroke="#000" stroke-width="1.5" fill="none"/>
<g text-anchor="end"><text x="712" y="326">1.0</text><text x="712" y="349">0.9</text><text x="712" y="372">0.8</text><text x="712" y="395">0.7</text><text x="712" y="418">0.6</text><text x="712" y="441">0.5</text><text x="712" y="464">0.4</text><text x="712" y="487">0.3</text><text x="712" y="510">0.2</text><text x="712" y="533">0.1</text><text x="712" y="557">0.0</text></g>
<g text-anchor="middle"><text x="727" y="580">0</text><text x="761" y="580">3</text><text x="794" y="580">6</text><text x="828" y="580">9</text><text x="862" y="580">12</text><text x="895" y="580">15</text><text x="929" y="580">18</text><text x="963" y="580">21</text><text x="996" y="580">24</text><text x="1030" y="580">27</text><text x="1064" y="580">30</text><text x="1097" y="580">33</text><text x="1131" y="580">36</text><text x="1165" y="580">39</text><text x="1198" y="580">42</text></g>
<text x="960" y="600" text-anchor="middle" font-size="12">Time (months)</text>
<text transform="translate(688 440) rotate(-90)" text-anchor="middle" font-size="12">Progression-free Survival</text>
</g>
<g transform="translate(727 553) scale(11.24 -231)" fill="none">
<polyline vector-effect="non-scaling-stroke" stroke-width="1.5" stroke="#888" points="0,1 1.2,.98 1.4,.95 1.5,.8 2.5,.75 3,.65 4,.6 4.5,.5 5.5,.43 6,.35 7,.29 8,.22 9,.18 11,.13 13,.1 15,.08 17,.06 20,.04 22,.02 27,.005"/>
<polyline vector-effect="non-scaling-stroke" stroke-width="1.5" stroke="#e8211b" points="0,1 1.3,.97 1.5,.9 2,.85 2.8,.82 3,.76 4,.7 4.5,.65 5.5,.56 6,.48 7,.43 8,.36 9,.3 10,.27 11,.23 11.5,.18 13,.15 14,.11 16,.09 17,.07 20,.04 22,.03 24,.02 28,.015 29.5,.01 38,.01"/>
</g>
<g font-size="12.5"><line x1="732" y1="536" x2="760" y2="536" stroke="#e8211b" stroke-width="1.5"/><text x="762" y="540" fill="#e8211b">RAM+FOLFIRI</text><line x1="732" y1="551" x2="760" y2="551" stroke="#888" stroke-width="1.5"/><text x="762" y="555" fill="#888">PBO+FOLFIRI</text></g>
<g font-size="11.5" fill="#222"><line x1="883" y1="328" x2="1220" y2="328" stroke="#000" stroke-width="2.5"/><text x="1053" y="343" text-anchor="middle" font-weight="bold">RAM+FOLFIRI</text><text x="1053" y="359" text-anchor="middle" font-weight="bold">N=536</text><text x="1165" y="343" text-anchor="middle" font-weight="bold">PBO+FOLFIRI</text><text x="1165" y="359" text-anchor="middle" font-weight="bold">N=536</text><line x1="883" y1="365" x2="1220" y2="365" stroke="#000" stroke-width="1.5"/><text x="889" y="380">Median, months</text><text x="1053" y="380" text-anchor="middle">5.7</text><text x="1165" y="380" text-anchor="middle">4.5</text><text x="889" y="397">(95% CI)</text><text x="1053" y="397" text-anchor="middle">(5.5, 6.2)</text><text x="1165" y="397" text-anchor="middle">(4.2, 5.4)</text><text x="889" y="417">HR (95% CI)</text><text x="1110" y="417" text-anchor="middle">0.793 (0.697, 0.903) (stratified)</text><text x="889" y="435">P-value (log-rank)</text><text x="1120" y="435" text-anchor="middle">0.0005 (stratified)</text><line x1="883" y1="441" x2="1220" y2="441" stroke="#000" stroke-width="2.5"/></g>
<g font-size="11" fill="#111"><text x="657" y="613" font-weight="bold">Number at Risk</text><text x="657" y="631" font-weight="bold">RAM+FOLFIRI</text><text x="657" y="650" font-weight="bold">PBO+FOLFIRI</text>
<g text-anchor="middle"><text x="748" y="631">536</text><text x="779" y="631">381</text><text x="813" y="631">234</text><text x="847" y="631">142</text><text x="880" y="631">77</text><text x="913" y="631">38</text><text x="946" y="631">20</text><text x="979" y="631">11</text><text x="1013" y="631">6</text><text x="1045" y="631">5</text><text x="1079" y="631">2</text><text x="1112" y="631">1</text><text x="1144" y="631">1</text><text x="1178" y="631">0</text><text x="1212" y="631">0</text>
<text x="748" y="650">536</text><text x="779" y="650">345</text><text x="813" y="650">182</text><text x="847" y="650">92</text><text x="880" y="650">52</text><text x="913" y="650">31</text><text x="946" y="650">17</text><text x="979" y="650">10</text><text x="1013" y="650">3</text><text x="1045" y="650">1</text><text x="1079" y="650">0</text><text x="1112" y="650">0</text><text x="1144" y="650">0</text><text x="1178" y="650">0</text><text x="1212" y="650">0</text></g></g>

<!-- Fig 3 -->
<g font-size="9.5" fill="#222">
<path d="M1931 835 V1072 H2425" stroke="#000" stroke-width="1.5" fill="none"/>
<g text-anchor="end"><text x="1920" y="840">1.0</text><text x="1920" y="863">0.9</text><text x="1920" y="886">0.8</text><text x="1920" y="909">0.7</text><text x="1920" y="932">0.6</text><text x="1920" y="955">0.5</text><text x="1920" y="978">0.4</text><text x="1920" y="1000">0.3</text><text x="1920" y="1023">0.2</text><text x="1920" y="1046">0.1</text><text x="1920" y="1069">0.0</text></g>
<g text-anchor="middle"><text x="1937" y="1088">0</text><text x="1961" y="1088">2</text><text x="1986" y="1088">4</text><text x="2010" y="1088">6</text><text x="2034" y="1088">8</text><text x="2059" y="1088">10</text><text x="2083" y="1088">12</text><text x="2108" y="1088">14</text><text x="2132" y="1088">16</text><text x="2156" y="1088">18</text><text x="2181" y="1088">20</text><text x="2205" y="1088">22</text><text x="2230" y="1088">24</text><text x="2254" y="1088">26</text><text x="2278" y="1088">28</text><text x="2303" y="1088">30</text><text x="2327" y="1088">32</text><text x="2352" y="1088">34</text><text x="2376" y="1088">36</text><text x="2400" y="1088">38</text><text x="2425" y="1088">40</text></g>
<text x="2150" y="1110" text-anchor="middle" font-size="11">Time Since Randomization (months)</text>
<text transform="translate(1896 960) rotate(-90)" text-anchor="middle" font-size="11">Overall Survival</text>
</g>
<g transform="translate(1937 1066) scale(12.2 -229)" fill="none">
<polyline vector-effect="non-scaling-stroke" stroke-width="1.3" stroke="#000" stroke-dasharray="2 2" points="0,1 4,.92 6,.82 8,.73 10,.6 12,.52 14,.44 16,.39 18,.34 20,.29 22,.24 24,.2 26,.15 28,.12 30,.1 33,.07 37,.07 37.5,.04 39.5,.04"/>
<polyline vector-effect="non-scaling-stroke" stroke-width="1.3" stroke="#b0129f" points="0,1 4,.93 6,.83 7,.7 8,.65 10,.6 11,.52 12,.42 13,.37 14,.32 16,.3 16.5,.24 18,.22 19,.17 22,.11 33,.11 33.5,.06 35,.06"/>
<polyline vector-effect="non-scaling-stroke" stroke-width="1.3" stroke="#0ea84a" stroke-dasharray="6 3" points="0,1 4,.93 6,.85 8,.75 10,.68 11,.6 12,.55 14,.45 16,.42 18,.36 20,.31 22,.27 24,.25 25,.2 30,.18 31,.14 37,.14 37.2,.01"/>
<polyline vector-effect="non-scaling-stroke" stroke-width="1.3" stroke="#1a9fe0" stroke-dasharray="8 3" points="0,1 4,1 6,.95 8,.87 10,.78 12,.72 14,.63 15.5,.51 17,.45 19,.43 21.5,.43 22,.36 24,.32 26,.29 28,.24 29,.21 31,.18 35,.18 36,.14 38,.12"/>
<polyline vector-effect="non-scaling-stroke" stroke-width="1.3" stroke="#e8211b" stroke-dasharray="8 3" points="0,1 4,.94 6,.9 8,.85 10,.78 12,.73 14,.67 16,.57 18,.44 20,.37 22,.3 24,.28 26,.23 28,.2 29.5,.13 38,.13"/>
</g>
<g font-size="8.5">
<line x1="1935" y1="1005" x2="1966" y2="1005" stroke="#c060c0" stroke-width="2"/><text x="1975" y="1008" fill="#b0129f">Ramucirumab (Cmin,ss) Q1</text>
<line x1="1935" y1="1015" x2="1966" y2="1015" stroke="#0ea84a" stroke-dasharray="6 3"/><text x="1975" y="1018" fill="#0ea84a">Ramucirumab (Cmin,ss) Q2</text>
<line x1="1935" y1="1025" x2="1966" y2="1025" stroke="#1a9fe0" stroke-dasharray="8 3"/><text x="1975" y="1028" fill="#1a9fe0">Ramucirumab (Cmin,ss) Q3</text>
<line x1="1935" y1="1036" x2="1966" y2="1036" stroke="#e8211b" stroke-dasharray="8 4"/><text x="1975" y="1039" fill="#e8211b">Ramucirumab (Cmin,ss) Q4</text>
<line x1="1935" y1="1046" x2="1966" y2="1046" stroke="#000" stroke-dasharray="2 3"/><text x="1975" y="1049" fill="#000">Placebo</text>
<line x1="1952" y1="1052" x2="1952" y2="1059" stroke="#000"/><text x="1975" y="1059" fill="#000">Censored</text></g>
<g font-size="12" font-weight="bold"><text x="2185" y="837" fill="#b0129f">RAM Q1</text><text x="2237" y="837" fill="#0ea84a">RAM Q2</text><text x="2289" y="837" fill="#1a9fe0">RAM Q3</text><text x="2341" y="837" fill="#e8211b">RAM Q4</text><text x="2389" y="837" fill="#000">Placebo</text>
<line x1="2088" y1="846" x2="2434" y2="846" stroke="#666" stroke-width="2"/><text x="2093" y="863" font-size="11.5">Patients/Events</text><text x="2210" y="863" text-anchor="middle">106/84</text><text x="2260" y="863" text-anchor="middle">106/74</text><text x="2310" y="863" text-anchor="middle">106/68</text><text x="2362" y="863" text-anchor="middle">107/65</text><text x="2410" y="863" text-anchor="middle">481/353</text>
<text x="2093" y="887" font-size="11.5">Median, mos.</text><text x="2210" y="887" text-anchor="middle">11.5</text><text x="2260" y="887" text-anchor="middle">12.9</text><text x="2310" y="887" text-anchor="middle">16.4</text><text x="2362" y="887" text-anchor="middle">16.7</text><text x="2410" y="887" text-anchor="middle">12.4</text><line x1="2088" y1="895" x2="2434" y2="895" stroke="#666" stroke-width="2"/></g>
<g font-size="11" fill="#111"><text x="1868" y="1130" font-weight="bold">Patients at Risk</text>
<text x="1868" y="1148" fill="#b0129f">RAM Q1</text><text x="1868" y="1165" fill="#0ea84a">RAM Q2</text><text x="1868" y="1182" fill="#1a9fe0">RAM Q3</text><text x="1868" y="1199" fill="#e8211b">RAM Q4</text><text x="1868" y="1216">PBO</text>
<text x="1924" y="1148" font-size="10.5" textLength="505">106 106 100  84  66  57  42  29  21  16  11   7   5   4   3   2   2   1   0   0   0</text>
<text x="1924" y="1165" font-size="10.5" textLength="505">106 104  98  88  75  68  52  37  32  24  19  16  13   9   8   4   3   2   1   0   0</text>
<text x="1924" y="1182" font-size="10.5" textLength="505">106 106 105 100  89  80  70  56  46  33  27  20  17  14   9   7   4   4   2   0   0</text>
<text x="1924" y="1199" font-size="10.5" textLength="505">107 107 101  95  88  80  72  63  44  27  19  10   9   5   4   3   2   1   1   1   0</text>
<text x="1924" y="1216" font-size="10.5" textLength="505">481 475 442 386 333 292 223 181 141 106  77  57  43  29  17  10   7   2   2   1   0</text></g>

<!-- Fig 4 -->
<g font-size="9.5" fill="#222">
<path d="M1931 1305 V1542 H2425" stroke="#000" stroke-width="1.5" fill="none"/>
<g text-anchor="end"><text x="1920" y="1310">1.0</text><text x="1920" y="1333">0.9</text><text x="1920" y="1356">0.8</text><text x="1920" y="1379">0.7</text><text x="1920" y="1402">0.6</text><text x="1920" y="1425">0.5</text><text x="1920" y="1448">0.4</text><text x="1920" y="1470">0.3</text><text x="1920" y="1493">0.2</text><text x="1920" y="1516">0.1</text><text x="1920" y="1539">0.0</text></g>
<g text-anchor="middle"><text x="1935" y="1558">0</text><text x="1959" y="1558">2</text><text x="1984" y="1558">4</text><text x="2008" y="1558">6</text><text x="2032" y="1558">8</text><text x="2057" y="1558">10</text><text x="2081" y="1558">12</text><text x="2106" y="1558">14</text><text x="2130" y="1558">16</text><text x="2154" y="1558">18</text><text x="2179" y="1558">20</text><text x="2203" y="1558">22</text><text x="2228" y="1558">24</text><text x="2252" y="1558">26</text><text x="2276" y="1558">28</text><text x="2301" y="1558">30</text><text x="2325" y="1558">32</text><text x="2350" y="1558">34</text><text x="2374" y="1558">36</text><text x="2398" y="1558">38</text><text x="2423" y="1558">40</text></g>
<text x="2150" y="1578" text-anchor="middle" font-size="11">Time Since Randomization (months)</text>
<text transform="translate(1886 1420) rotate(-90)" text-anchor="middle" font-size="11">Progression-free Survival</text>
</g>
<g transform="translate(1935 1536) scale(12.15 -229)" fill="none">
<polyline vector-effect="non-scaling-stroke" stroke-width="1.3" stroke="#000" stroke-dasharray="2 2" points="0,1 1.5,.98 1.8,.85 2.5,.8 3,.7 4,.66 5.5,.45 6,.37 7,.33 8,.22 9,.2 11,.15 12,.12 14,.08 18,.06 22,.02 28,.005"/>
<polyline vector-effect="non-scaling-stroke" stroke-width="1.3" stroke="#b0129f" points="0,1 1.5,.98 2,.88 2.8,.85 3,.7 4,.65 5,.52 6,.38 7,.33 8,.28 9,.23 11,.15 12,.11 14,.09 16,.06 19,.03 22,.02 29,.02"/>
<polyline vector-effect="non-scaling-stroke" stroke-width="1.3" stroke="#0ea84a" stroke-dasharray="6 3" points="0,1 1.5,.97 2,.88 3,.7 4,.65 5,.5 6,.38 7,.33 8,.27 10,.22 11,.14 13,.12 14,.07 18,.05 22,.02 27.5,.01"/>
<polyline vector-effect="non-scaling-stroke" stroke-width="1.3" stroke="#1a9fe0" stroke-dasharray="8 3" points="0,1 1.5,1 2.5,.95 3,.9 4,.82 5,.75 6,.7 7,.57 7.5,.5 8,.4 9,.33 10,.28 11,.24 12,.21 13,.17 14,.1 15,.09 17,.07 19,.06 20,.02 24,.02"/>
<polyline vector-effect="non-scaling-stroke" stroke-width="1.3" stroke="#e8211b" stroke-dasharray="8 3" points="0,1 1.5,1 2.5,.98 3,.9 4,.86 5,.81 6,.73 7,.67 8,.62 8.5,.5 9.5,.45 10.5,.39 11.5,.32 12.5,.28 14,.18 16,.14 17,.09 20,.06 24,.04 29,.04 29.5,.02 38,.02"/>
</g>
<g font-size="8.5">
<line x1="2199" y1="1450" x2="2232" y2="1450" stroke="#c060c0" stroke-width="2"/><text x="2240" y="1453" fill="#b0129f">Ramucirumab (Cmin,ss) Q1</text>
<line x1="2199" y1="1460" x2="2232" y2="1460" stroke="#0ea84a" stroke-dasharray="6 3"/><text x="2240" y="1463" fill="#0ea84a">Ramucirumab (Cmin,ss) Q2</text>
<line x1="2199" y1="1470" x2="2232" y2="1470" stroke="#1a9fe0" stroke-dasharray="8 3"/><text x="2240" y="1473" fill="#1a9fe0">Ramucirumab (Cmin,ss) Q3</text>
<line x1="2199" y1="1480" x2="2232" y2="1480" stroke="#e8211b" stroke-dasharray="8 4"/><text x="2240" y="1483" fill="#e8211b">Ramucirumab (Cmin,ss) Q4</text>
<line x1="2199" y1="1490" x2="2232" y2="1490" stroke="#000" stroke-dasharray="2 3"/><text x="2240" y="1493" fill="#000">Placebo</text>
<line x1="2216" y1="1496" x2="2216" y2="1503" stroke="#000"/><text x="2240" y="1503" fill="#000">Censored</text></g>
<g font-size="12" font-weight="bold"><line x1="2080" y1="1300" x2="2434" y2="1300" stroke="#666" stroke-width="2"/><text x="2180" y="1321" fill="#b0129f">RAM Q1</text><text x="2232" y="1321" fill="#0ea84a">RAM Q2</text><text x="2285" y="1321" fill="#1a9fe0">RAM Q3</text><text x="2338" y="1321" fill="#e8211b">RAM Q4</text><text x="2388" y="1321" fill="#000">Placebo</text>
<line x1="2080" y1="1327" x2="2434" y2="1327" stroke="#000" stroke-width="1.5"/><text x="2085" y="1343" font-size="11.5">Patients/Events</text><text x="2205" y="1343" text-anchor="middle">106/96</text><text x="2255" y="1343" text-anchor="middle">106/99</text><text x="2308" y="1343" text-anchor="middle">106/94</text><text x="2360" y="1343" text-anchor="middle">107/95</text><text x="2410" y="1343" text-anchor="middle">481/449</text>
<text x="2085" y="1365" font-size="11.5">Median, mos.</text><text x="2205" y="1365" text-anchor="middle">5.4</text><text x="2255" y="1365" text-anchor="middle">4.6</text><text x="2308" y="1365" text-anchor="middle">6.8</text><text x="2360" y="1365" text-anchor="middle">8.5</text><text x="2410" y="1365" text-anchor="middle">5.2</text><line x1="2080" y1="1370" x2="2434" y2="1370" stroke="#000" stroke-width="1.5"/></g>
<g font-size="11" fill="#111"><text x="1862" y="1598" font-weight="bold">Patients at Risk</text>
<text x="1862" y="1616" fill="#b0129f">RAM Q1</text><text x="1862" y="1631" fill="#0ea84a">RAM Q2</text><text x="1862" y="1647" fill="#1a9fe0">RAM Q3</text><text x="1862" y="1662" fill="#e8211b">RAM Q4</text><text x="1862" y="1678">PBO</text>
<text x="1917" y="1616" font-size="10.5" textLength="512">106  91  66  37  28  22  11   6   4   3   2   1   1   1   1   0   0   0   0   0   0</text>
<text x="1917" y="1631" font-size="10.5" textLength="512">106  91  69  39  29  22  11   7   5   5   4   3   2   1   0   0   0   0   0   0   0</text>
<text x="1917" y="1647" font-size="10.5" textLength="512">106 102  86  59  37  28  18   7   5   2   1   0   0   0   0   0   0   0   0   0   0</text>
<text x="1917" y="1662" font-size="10.5" textLength="512">107 105  92  73  61  38  27  14  11   7   5   3   3   3   3   2   2   1   1   1   0</text>
<text x="1917" y="1678" font-size="10.5" textLength="512">481 392 305 176 116  80  50  32  26  17  11   6   3   2   0   0   0   0   0   0   0</text></g>

<!-- Fig 5 bars -->
<g font-size="9" font-weight="bold" fill="#000">
<path d="M2564 736 V993 H2877" stroke="#000" stroke-width="1.5" fill="none"/>
<g text-anchor="end"><text x="2557" y="739">55</text><text x="2557" y="762">50</text><text x="2557" y="786">45</text><text x="2557" y="809">40</text><text x="2557" y="832">35</text><text x="2557" y="856">30</text><text x="2557" y="879">25</text><text x="2557" y="902">20</text><text x="2557" y="926">15</text><text x="2557" y="949">10</text><text x="2557" y="972">5</text><text x="2557" y="996">0</text></g>
<text transform="translate(2532 864) rotate(-90)" text-anchor="middle" font-size="13">Percent of Patients</text>
<text x="2604" y="1021" text-anchor="middle">Hypertension</text><text x="2675" y="1021" text-anchor="middle">Neutropenia</text><text x="2744" y="1021" text-anchor="middle">Fatigue</text><text x="2826" y="1021" text-anchor="middle">Diarrhea</text>
</g>
<g transform="translate(0 993) scale(1 -4.67)">
<rect x="2589" width="7.3" height="3" fill="#000"/><rect x="2596.3" width="7.3" height="11.5" fill="#b0129f"/><rect x="2603.6" width="7.3" height="16" fill="#0ea84a"/><rect x="2610.9" width="7.3" height="9.5" fill="#1a9fe0"/><rect x="2618.2" width="7.3" height="14" fill="#d52b1e"/>
<rect x="2648" width="7.3" height="23.3" fill="#000"/><rect x="2655.3" width="7.3" height="39.7" fill="#b0129f"/><rect x="2662.6" width="7.3" height="35" fill="#0ea84a"/><rect x="2669.9" width="7.3" height="41.6" fill="#1a9fe0"/><rect x="2677.2" width="7.3" height="48.7" fill="#d52b1e"/>
<rect x="2727" width="7.3" height="8" fill="#000"/><rect x="2734.3" width="7.3" height="6.8" fill="#b0129f"/><rect x="2741.6" width="7.3" height="11.4" fill="#0ea84a"/><rect x="2748.9" width="7.3" height="8.7" fill="#1a9fe0"/><rect x="2756.2" width="7.3" height="15" fill="#d52b1e"/>
<rect x="2805" width="7.3" height="10.1" fill="#000"/><rect x="2812.3" width="7.3" height="8.7" fill="#b0129f"/><rect x="2819.6" width="7.3" height="12.3" fill="#0ea84a"/><rect x="2826.9" width="7.3" height="12.3" fill="#1a9fe0"/><rect x="2834.2" width="7.3" height="7.6" fill="#d52b1e"/>
</g>
<g font-size="10.5" font-weight="bold"><rect x="2732" y="741" width="24" height="7" fill="#000"/><text x="2762" y="749">PBO+FOLFIRI</text><rect x="2732" y="756" width="24" height="7" fill="#b0129f"/><text x="2762" y="764">RAM+FOLFIRI Q1</text><rect x="2732" y="772" width="24" height="7" fill="#0ea84a"/><text x="2762" y="780">RAM+FOLFIRI Q2</text><rect x="2732" y="787" width="24" height="7" fill="#1a9fe0"/><text x="2762" y="795">RAM+FOLFIRI Q3</text><rect x="2732" y="803" width="24" height="7" fill="#d52b1e"/><text x="2762" y="811">RAM+FOLFIRI Q4</text></g>
</svg>
</body></html>
